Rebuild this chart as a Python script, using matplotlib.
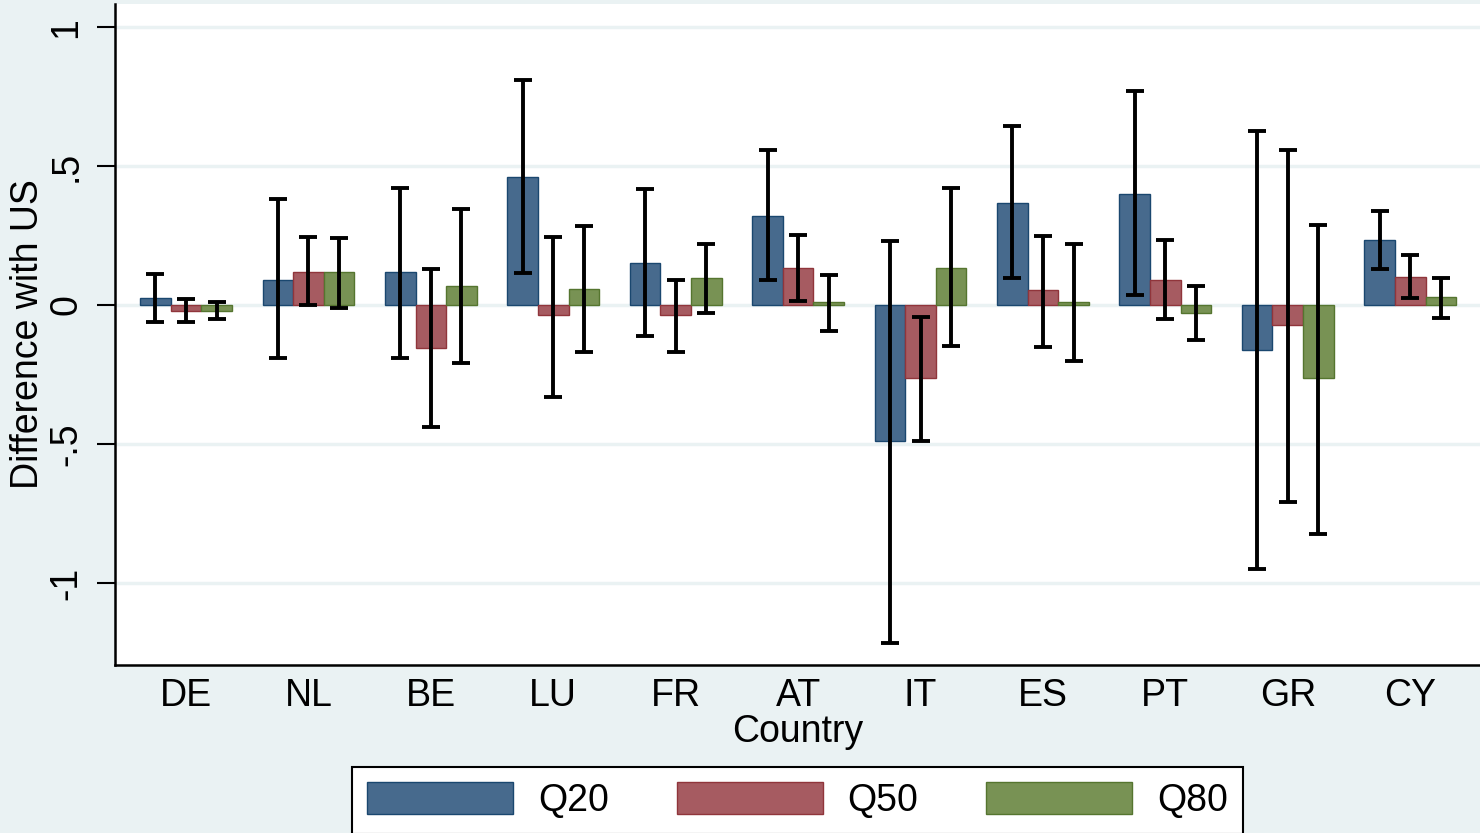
import numpy as np
import matplotlib
matplotlib.use("Agg")
import matplotlib.pyplot as plt

# -----------------------------
# Dados
# -----------------------------
countries = ["DE", "NL", "BE", "LU", "FR", "AT", "IT", "ES", "PT", "GR", "CY"]
series = ["Q20", "Q50", "Q80"]

q20 = [0.025, 0.09, 0.118, 0.46, 0.15, 0.32, -0.49, 0.367, 0.40, -0.162, 0.234]
q50 = [-0.02, 0.12, -0.155, -0.036, -0.036, 0.133, -0.263, 0.053, 0.09, -0.072, 0.10]
q80 = [-0.02, 0.118, 0.07, 0.058, 0.097, 0.01, 0.133, 0.01, -0.029, -0.264, 0.028]

q20_hi = [0.11, 0.38, 0.42, 0.81, 0.417, 0.557, 0.23, 0.645, 0.77, 0.626, 0.338]
q20_lo = [-0.06, -0.19, -0.19, 0.115, -0.11, 0.09, -1.215, 0.097, 0.036, -0.95, 0.13]
q50_hi = [0.02, 0.245, 0.13, 0.245, 0.09, 0.252, -0.042, 0.25, 0.234, 0.557, 0.18]
q50_lo = [-0.06, 0.0, -0.44, -0.33, -0.17, 0.015, -0.488, -0.15, -0.05, -0.71, 0.024]
q80_hi = [0.01, 0.24, 0.345, 0.285, 0.22, 0.108, 0.42, 0.22, 0.068, 0.288, 0.097]
q80_lo = [-0.05, -0.01, -0.21, -0.17, -0.03, -0.094, -0.146, -0.2, -0.127, -0.824, -0.047]

yticks = [-1, -0.5, 0, 0.5, 1]
ytick_labels = ["-1", "-.5", "0", ".5", "1"]

# -----------------------------
# Estilo
# -----------------------------
bg = "#eaf2f3"
faces = ["#476a8d", "#a65b61", "#789254"]
edges = ["#1a476f", "#90353b", "#55752f"]
fs = 27

plt.rcParams["font.family"] = ["Liberation Sans", "DejaVu Sans"]

fig = plt.figure(figsize=(14.8, 8.33), dpi=100, facecolor=bg)
ax = fig.add_axes([115 / 1480, 1 - 665 / 833, 1 - 115 / 1480, (665 - 4) / 833])
ax.set_facecolor("white")

x = np.arange(len(countries))
w = 0.25
vals = [q20, q50, q80]
his = [q20_hi, q50_hi, q80_hi]
los = [q20_lo, q50_lo, q80_lo]

for i in range(3):
    xi = x + (i - 1) * w
    ax.bar(xi, vals[i], width=w, color=faces[i], edgecolor=edges[i],
           linewidth=1.0, label=series[i], zorder=2)

# intervalos de confiança
for i in range(3):
    xi = x + (i - 1) * w
    hi = np.array(his[i])
    lo = np.array(los[i])
    mid = (hi + lo) / 2
    ax.errorbar(xi, mid, yerr=[mid - lo, hi - mid], fmt="none",
                ecolor="black", elinewidth=2.8, capsize=6.5, capthick=2.8, zorder=3)

ax.set_xlim(-0.58, len(countries) - 1 + 0.57)
ax.set_ylim(-1.295, 1.083)

ax.set_yticks(yticks)
ax.set_yticklabels(ytick_labels, rotation=90, va="center", fontsize=fs)
ax.set_xticks(x)
ax.set_xticklabels(countries, fontsize=fs)
ax.tick_params(axis="x", length=0, pad=9)
ax.tick_params(axis="y", length=13, width=1.5, pad=9)

ax.grid(axis="y", color=bg, linewidth=2.5, zorder=0)
ax.set_axisbelow(True)

for s in ["top", "right"]:
    ax.spines[s].set_visible(False)
for s in ["left", "bottom"]:
    ax.spines[s].set_linewidth(1.8)

ax.set_ylabel("Difference with US", fontsize=fs, labelpad=2)
ax.set_xlabel("Country", fontsize=fs, labelpad=0)

leg = fig.legend(loc="upper center", bbox_to_anchor=(797.5 / 1480, 1 - 767 / 833),
                 ncol=3, fontsize=fs, frameon=True, fancybox=False, framealpha=1,
                 handlelength=3.9, handleheight=0.95, handletextpad=0.66,
                 columnspacing=1.8, borderpad=0.4, borderaxespad=0)
leg.get_frame().set_edgecolor("black")
leg.get_frame().set_linewidth(1.5)

fig.savefig("out.png", dpi=100, facecolor=bg)
